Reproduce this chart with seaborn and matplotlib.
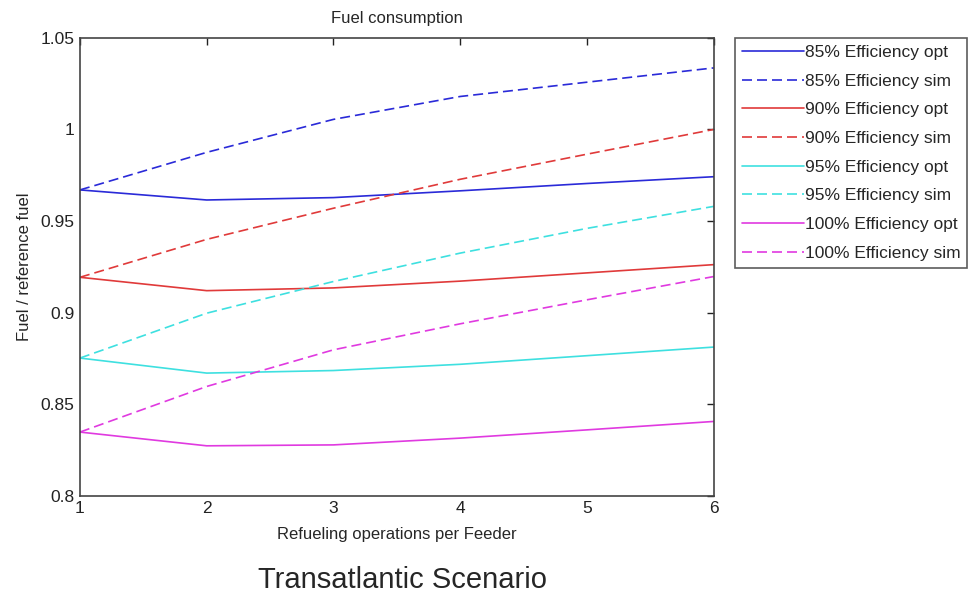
import numpy as np
import pandas as pd
import matplotlib
matplotlib.use('Agg')
import matplotlib.pyplot as plt
import seaborn as sns

sns.set_style('white')
plt.rcParams['font.family'] = ['Liberation Sans', 'DejaVu Sans']

refuels = [1, 2, 3, 4, 5, 6]

eff85_opt = [0.967, 0.9615, 0.9628, 0.9665, 0.9705, 0.9742]
eff85_sim = [0.967, 0.9875, 1.0055, 1.0180, 1.0258, 1.0336]
eff90_opt = [0.9193, 0.9120, 0.9135, 0.9172, 0.9217, 0.9262]
eff90_sim = [0.9193, 0.9400, 0.9570, 0.9728, 0.9865, 1.0000]
eff95_opt = [0.8752, 0.8670, 0.8684, 0.8718, 0.8765, 0.8812]
eff95_sim = [0.8752, 0.8997, 0.9170, 0.9325, 0.9460, 0.9580]
eff100_opt = [0.8348, 0.8273, 0.8278, 0.8315, 0.8360, 0.8406]
eff100_sim = [0.8348, 0.8597, 0.8797, 0.8939, 0.9070, 0.9197]

series_names = ['85% Efficiency opt', '85% Efficiency sim',
                '90% Efficiency opt', '90% Efficiency sim',
                '95% Efficiency opt', '95% Efficiency sim',
                '100% Efficiency opt', '100% Efficiency sim']
series_values = [eff85_opt, eff85_sim, eff90_opt, eff90_sim,
                 eff95_opt, eff95_sim, eff100_opt, eff100_sim]

df = pd.DataFrame({
    'refuels': refuels * len(series_names),
    'fuel': np.concatenate(series_values),
    'series': np.repeat(series_names, len(refuels)),
})

colors = ['#2a2ad8', '#2a2ad8', '#e03a3a', '#e03a3a',
          '#3ee0e0', '#3ee0e0', '#e03ae0', '#e03ae0']
palette = dict(zip(series_names, colors))
dashes = {name: ('' if name.endswith('opt') else (6, 3)) for name in series_names}

fig = plt.figure(figsize=(9.75, 6.01), dpi=100)
ax = fig.add_axes([0.082, 0.175, 0.650, 0.762])

sns.lineplot(data=df, x='refuels', y='fuel', hue='series', style='series',
             palette=palette, dashes=dashes, hue_order=series_names,
             style_order=series_names, linewidth=1.2, ax=ax)

ax.set_xlim(1, 6)
ax.set_ylim(0.8, 1.05)
ax.set_xticks([1, 2, 3, 4, 5, 6])
ax.set_yticks([0.8, 0.85, 0.9, 0.95, 1.0, 1.05])
ax.set_yticklabels(['0.8', '0.85', '0.9', '0.95', '1', '1.05'])
ax.tick_params(direction='in', length=5, width=1, labelsize=12.5, pad=4,
               top=True, right=True, colors='#222222')
for sp in ax.spines.values():
    sp.set_color('#444444')
    sp.set_linewidth(1.2)

ax.set_title('Fuel consumption', fontsize=12, pad=11)
ax.set_xlabel('Refueling operations per Feeder', fontsize=12, labelpad=8)
ax.set_ylabel('Fuel / reference fuel', fontsize=12, labelpad=6)

leg = ax.legend(loc='upper left', bbox_to_anchor=(1.033, 1.0), fontsize=12.5,
                handlelength=3.6, handletextpad=0.05, borderaxespad=0,
                labelspacing=0.78, frameon=True, fancybox=False,
                borderpad=0.4)
leg.get_frame().set_edgecolor('#333333')
leg.get_frame().set_linewidth(1.2)

fig.text(0.413, 0.012, 'Transatlantic Scenario', fontsize=21, ha='center',
         va='bottom')

fig.savefig('out.png', dpi=100)
